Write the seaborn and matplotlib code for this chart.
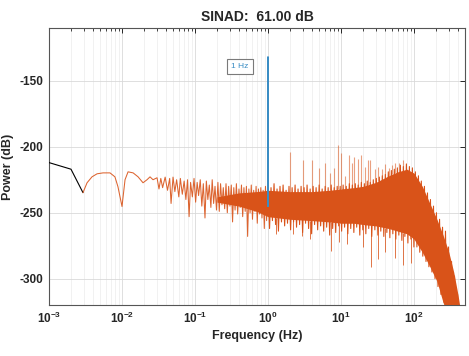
import numpy as np
import pandas as pd
import seaborn as sns
import matplotlib
matplotlib.use("Agg")
import matplotlib.pyplot as plt
from matplotlib.ticker import FixedLocator, FixedFormatter, LogLocator, NullFormatter

# ---------------- data ----------------
title_text = "SINAD:  61.00 dB"
x_label = "Frequency (Hz)"
y_label = "Power (dB)"
fund_label = "1 Hz"

# DC region (black)
dc_freq = [0.001, 0.002, 0.00292]
dc_power = [-212, -217, -234.8]

# low-frequency smooth ripple (orange)
lf_freq = [0.00292, 0.00332, 0.00388, 0.00455, 0.0055, 0.00685, 0.0080, 0.0088,
           0.0100, 0.0110, 0.0121, 0.0142, 0.0166, 0.0194, 0.0220, 0.0242,
           0.0266, 0.0302, 0.0321]
lf_power = [-234.8, -227.3, -222.8, -220.5, -219.8, -219.8, -222.8, -230.3,
            -245.3, -225.0, -219.0, -219.8, -222.8, -227.3, -225.0, -222.8,
            -225.0, -223.5, -232.0]

# mid-frequency ripple (orange)
mid_freq = [0.034, 0.036, 0.039, 0.042, 0.045, 0.047, 0.050, 0.053, 0.056, 0.060,
            0.063, 0.067, 0.071, 0.075, 0.079, 0.083, 0.087, 0.092, 0.097, 0.102,
            0.107, 0.112, 0.118, 0.124, 0.130, 0.137, 0.143, 0.150, 0.157, 0.165,
            0.172, 0.180, 0.188, 0.197, 0.206, 0.215, 0.224, 0.234, 0.244, 0.255,
            0.266, 0.277, 0.289, 0.301, 0.314, 0.327, 0.340, 0.354, 0.369, 0.384,
            0.400, 0.416, 0.433, 0.450, 0.468, 0.487, 0.506, 0.526, 0.547, 0.568,
            0.590, 0.613, 0.637, 0.662, 0.687, 0.713, 0.740, 0.768, 0.797, 0.827,
            0.858, 0.890, 0.923, 0.957, 0.990]
mid_power = [-224, -231, -223, -233, -224, -243, -223, -234, -225, -238,
             -224, -236, -226, -240, -225, -253, -227, -238, -224, -242,
             -227, -237, -225, -245, -228, -254, -226, -240, -229, -246,
             -225, -243, -230, -248, -227, -249, -228, -244, -231, -247,
             -228, -250, -230, -245, -229, -257, -231, -248, -228, -251,
             -232, -246, -229, -253, -231, -249, -230, -268, -232, -250,
             -229, -255, -233, -249, -230, -258, -232, -251, -231, -254,
             -233, -262, -230, -256, -232]

# high-frequency dense noise (orange), alternating top / bottom excursions
hf_freq = [1.00, 1.05, 1.10, 1.15, 1.21, 1.27, 1.33, 1.39, 1.46, 1.53,
           1.61, 1.69, 1.77, 1.85, 1.94, 2.04, 2.14, 2.24, 2.35, 2.46,
           2.58, 2.71, 2.84, 2.98, 3.12, 3.27, 3.43, 3.60, 3.78, 3.96,
           4.15, 4.35, 4.56, 4.79, 5.02, 5.26, 5.52, 5.79, 6.07, 6.36,
           6.67, 7.00, 7.34, 7.69, 8.07, 8.46, 8.87, 9.30, 9.75, 10.2,
           10.7, 11.2, 11.8, 12.4, 13.0, 13.6, 14.3, 15.0, 15.7, 16.4,
           17.2, 18.1, 19.0, 19.9, 20.9, 21.9, 22.9, 24.0, 25.2, 26.4,
           27.7, 29.1, 30.5, 32.0, 33.5, 35.1, 36.8, 38.6, 40.5, 42.5,
           44.5, 46.7, 49.0, 51.3, 53.8, 56.4, 59.2, 62.0, 65.1, 68.2,
           71.5, 75.0, 78.7, 82.5, 86.5, 90.7, 95.1, 99.7, 104.5, 109.6,
           115, 120, 126, 132, 139, 146, 153, 160, 168, 176,
           185, 194, 203, 213, 224, 234, 246, 258, 270, 283,
           297, 312, 327, 343, 359, 377, 395, 414, 434, 455]
hf_power = [-229, -262, -231, -256, -228, -259, -232, -264, -230, -257,
            -229, -260, -233, -258, -230, -263, -231, -257, -229, -261,
            -232, -259, -230, -265, -231, -258, -229, -262, -232, -266,
            -230, -259, -231, -263, -229, -260, -232, -264, -230, -261,
            -231, -267, -229, -262, -231, -265, -230, -260, -230, -264,
            -229, -261, -230, -266, -228, -262, -229, -265, -228, -261,
            -229, -267, -227, -263, -228, -266, -226, -262, -227, -268,
            -225, -263, -224, -267, -223, -264, -222, -268, -221, -265,
            -219, -269, -218, -266, -217, -270, -216, -267, -214, -271,
            -215, -268, -213, -273, -215, -270, -216, -276, -219, -276,
            -222, -280, -226, -283, -230, -287, -235, -291, -240, -295,
            -245, -300, -250, -306, -255, -312, -261, -318, -264, -325,
            -276, -330, -287, -335, -298, -340, -312, -345, -326, -350]

# solid core of the noise band (orange)
band_freq = [0.2, 0.4, 0.7, 1.0, 2, 4, 7, 10, 15, 20, 30, 45, 60, 80, 100,
             130, 165, 206, 250, 300, 350, 400, 450, 500]
band_upper = [-238, -235, -234, -233, -234, -234, -233, -232, -231, -230, -227,
              -222, -219, -217, -220, -230, -243, -255, -267, -280, -295, -312,
              -330, -345]
band_lower = [-242, -245, -249, -253, -255, -256, -257, -258, -258, -259, -260,
              -262, -264, -266, -270, -280, -291, -302, -318, -330, -340, -350,
              -360, -370]

# harmonic / spur spikes above the band
up_freq = [2, 3, 4, 5, 6, 7, 8, 9, 10, 11.4, 12.9, 14.3, 15.3, 16.9, 19, 21.1,
           23.4, 24.7, 29.1, 32.6, 36.4, 40, 45, 50, 55, 62, 70]
up_power = [-204, -210, -210, -216, -212, -220, -216, -199, -205, -222, -206,
            -212, -208, -209, -206, -215, -210, -210, -217, -215, -217, -213,
            -216, -214, -212, -212, -210]

# deep dips below the band
dn_freq = [1.3, 2.2, 2.9, 3.8, 7.2, 9.5, 12, 20, 26, 32, 40, 55, 70, 90]
dn_power = [-266, -266, -268, -270, -279, -272, -274, -276, -291, -285, -280,
            -284, -290, -288]

# fundamental (blue)
fund_freq = [0.999, 1.0, 1.001]
fund_power = [-245, -132, -245]
fund_text_pos = (0.41, -139)

x_ticks = [1e-3, 1e-2, 1e-1, 1e0, 1e1, 1e2]
x_tick_labels = [r"$\mathbf{10^{-3}}$", r"$\mathbf{10^{-2}}$", r"$\mathbf{10^{-1}}$",
                 r"$\mathbf{10^{0}}$", r"$\mathbf{10^{1}}$", r"$\mathbf{10^{2}}$"]
y_ticks = [-300, -250, -200, -150]
x_lim = (1e-3, 500)
y_lim = (-320, -110)

# ---------------- style ----------------
sns.set_style("white")
plt.rcParams["font.family"] = ["Liberation Sans", "DejaVu Sans"]
plt.rcParams["mathtext.fontset"] = "custom"
plt.rcParams["mathtext.bf"] = "Liberation Sans:bold"
plt.rcParams["mathtext.rm"] = "Liberation Sans"

orange = "#D95319"
blue = "#3A8DC4"
axcol = "#262626"

fig = plt.figure(figsize=(4.69, 3.56), dpi=100)
ax = fig.add_axes([0.1045, 0.1433, 0.8870, 0.7777])
ax.set_xscale("log")

# noise band core
ax.fill_between(band_freq, band_lower, band_upper, color=orange, lw=0, zorder=2)

# spikes
ax.vlines(up_freq, [np.interp(np.log10(f), np.log10(band_freq), band_upper) for f in up_freq],
          up_power, color=orange, alpha=0.55, lw=0.8, zorder=2)
ax.vlines(dn_freq, dn_power,
          [np.interp(np.log10(f), np.log10(band_freq), band_lower) for f in dn_freq],
          color=orange, alpha=0.8, lw=0.7, zorder=2)

df_dc = pd.DataFrame({"f": dc_freq, "p": dc_power})
df_lf = pd.DataFrame({"f": lf_freq + mid_freq, "p": lf_power + mid_power})
df_hf = pd.DataFrame({"f": hf_freq, "p": hf_power})
df_fund = pd.DataFrame({"f": fund_freq, "p": fund_power})

sns.lineplot(data=df_dc, x="f", y="p", ax=ax, color="black", lw=0.8,
             estimator=None, sort=False, zorder=3)
sns.lineplot(data=df_lf, x="f", y="p", ax=ax, color=orange, lw=0.75,
             estimator=None, sort=False, zorder=3, alpha=0.9)
sns.lineplot(data=df_hf, x="f", y="p", ax=ax, color=orange, lw=0.8,
             estimator=None, sort=False, zorder=3)
sns.lineplot(data=df_fund, x="f", y="p", ax=ax, color=blue, lw=1.4,
             estimator=None, sort=False, zorder=4)

ax.text(fund_text_pos[0], fund_text_pos[1], fund_label, fontsize=6, color=blue,
        ha="center", va="center", zorder=5,
        bbox=dict(boxstyle="square,pad=0.5", fc="white", ec="#7a7a7a", lw=0.8))

ax.set_xlim(*x_lim)
ax.set_ylim(*y_lim)

ax.xaxis.set_major_locator(FixedLocator(x_ticks))
ax.xaxis.set_major_formatter(FixedFormatter(x_tick_labels))
ax.xaxis.set_minor_locator(LogLocator(base=10, subs=np.arange(2, 10), numticks=20))
ax.xaxis.set_minor_formatter(NullFormatter())
ax.set_yticks(y_ticks)
ax.set_yticklabels([str(v) for v in y_ticks])

ax.grid(True, which="major", color="#d9d9d9", lw=0.6, zorder=0)
ax.grid(True, which="minor", axis="x", color="#ececec", lw=0.5, zorder=0)
ax.set_axisbelow(True)

ax.tick_params(axis="both", which="both", direction="in", top=True, right=True,
               colors=axcol, labelcolor=axcol)
ax.tick_params(axis="both", which="major", length=3.5, width=0.7, labelsize=8.5, pad=4)
ax.tick_params(axis="x", which="minor", length=2, width=0.6)
for lab in ax.get_yticklabels():
    lab.set_fontweight("bold")
for s in ax.spines.values():
    s.set_color("#555555")
    s.set_linewidth(0.8)

ax.set_xlabel(x_label, fontsize=9, fontweight="bold", color=axcol, labelpad=3)
ax.set_ylabel(y_label, fontsize=9, fontweight="bold", color=axcol, labelpad=4)
ax.set_title(title_text, fontsize=10, fontweight="bold", color=axcol, pad=5)

fig.savefig("out.png", dpi=100)
